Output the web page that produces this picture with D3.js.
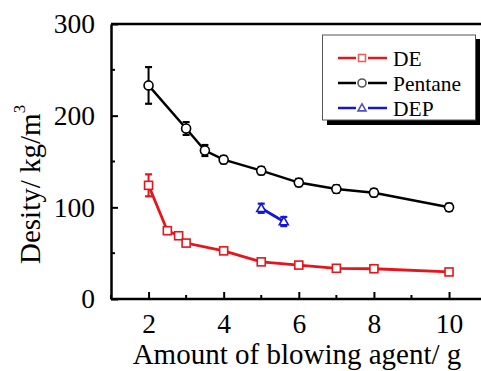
<!DOCTYPE html>
<html><head><meta charset="utf-8">
<script src="https://cdn.jsdelivr.net/npm/d3@7/dist/d3.min.js"></script>
</head><body>
<script>
const seriesNames = ["DE", "Pentane", "DEP"];
const seriesColors = ["#e8141b", "#000000", "#1515d8"];
const deX = [2, 2.5, 2.8, 3, 4, 5, 6, 7, 8, 10];
const deY = [124, 74.5, 69, 61, 52.5, 40.5, 37, 33.5, 33, 29.5];
const deErr = [12, 3, 3, 3, 2.5, 2.5, 3, 3, 3, 3];
const pentaneX = [2, 3, 3.5, 4, 5, 6, 7, 8, 10];
const pentaneY = [233, 186, 162, 152, 140, 127, 120, 116, 100];
const pentaneErr = [20, 7, 6, 4, 4, 4, 4, 4, 4];
const depX = [5, 5.6];
const depY = [99, 84.5];
const depErr = [5, 5];
const xTicks = [2, 4, 6, 8, 10];
const xMinor = [1, 3, 5, 7, 9, 11];
const yTicks = [0, 100, 200, 300];
const yMinor = [50, 150, 250];

d3.select("body").style("margin", "0px").style("background", "#fff");
const W = 481, H = 371;
const svg = d3.select("body").append("svg").attr("width", W).attr("height", H).style("display", "block");
const x = d3.scaleLinear().domain([1, 11]).range([111, 486.6]);
const y = d3.scaleLinear().domain([0, 300]).range([299, 24]);
const FONT = "\"Liberation Serif\"";

// frame
svg.append("line").attr("x1", x(1)).attr("x2", W).attr("y1", y(300)).attr("y2", y(300))
  .attr("stroke", "#000").attr("stroke-width", 2.5);

// axes
const xAxis = d3.axisBottom(x).tickValues(xTicks).tickSizeInner(-7).tickSizeOuter(0).tickPadding(14).tickFormat(d3.format("d"));
const gx = svg.append("g").attr("transform", `translate(0,${y(0)})`).call(xAxis);
gx.attr("font-family", null);
gx.select(".domain").attr("stroke-width", 2.5).attr("d", `M${x(1)},0H${W}`);
gx.selectAll(".tick line").attr("stroke-width", 2);
gx.selectAll("text").style("font-family", FONT).style("font-size", "27.5px").attr("fill", "#000");
gx.selectAll(".minor").data(xMinor).enter().append("line").attr("class", "minor")
  .attr("x1", d => x(d)).attr("x2", d => x(d)).attr("y1", 0).attr("y2", -4)
  .attr("stroke", "#000").attr("stroke-width", 2);

const yAxis = d3.axisLeft(y).tickValues(yTicks).tickSizeInner(-7).tickSizeOuter(0).tickPadding(16).tickFormat(d3.format("d"));
const gy = svg.append("g").attr("transform", `translate(${x(1)},0)`).call(yAxis);
gy.attr("font-family", null);
gy.select(".domain").attr("stroke-width", 2.5);
gy.selectAll(".tick line").attr("stroke-width", 2);
gy.selectAll("text").style("font-family", FONT).style("font-size", "27.5px").attr("fill", "#000");
gy.selectAll(".minor").data(yMinor).enter().append("line").attr("class", "minor")
  .attr("y1", d => y(d)).attr("y2", d => y(d)).attr("x1", 0).attr("x2", 4)
  .attr("stroke", "#000").attr("stroke-width", 2);

// axis titles
svg.append("text").attr("x", 297).attr("y", 364).attr("text-anchor", "middle")
  .style("font-family", FONT).style("font-size", "29px").text("Amount of blowing agent/ g");
const yl = svg.append("text").attr("transform", "translate(40,264) rotate(-90)")
  .style("font-family", FONT).style("font-size", "29px");
yl.append("tspan").text("Desity/ kg/m");
yl.append("tspan").style("font-size", "17px").attr("dy", -15).text("3");

// series
const series = [
  {name: seriesNames[0], color: seriesColors[0], xs: deX, ys: deY, es: deErr, shape: "square", lw: 2.8},
  {name: seriesNames[1], color: seriesColors[1], xs: pentaneX, ys: pentaneY, es: pentaneErr, shape: "circle", lw: 2.5},
  {name: seriesNames[2], color: seriesColors[2], xs: depX, ys: depY, es: depErr, shape: "triangle", lw: 2.8}
];
function marker(g, shape, color, cx, cy, s) {
  if (shape === "square") {
    g.append("rect").attr("x", cx - s/2).attr("y", cy - s/2).attr("width", s).attr("height", s)
      .attr("fill", "#fff").attr("stroke", color).attr("stroke-width", 1.6);
  } else if (shape === "circle") {
    g.append("circle").attr("cx", cx).attr("cy", cy).attr("r", s/2 + 0.5)
      .attr("fill", "#fff").attr("stroke", color).attr("stroke-width", 1.6);
  } else {
    const h = s * 0.9;
    g.append("path").attr("d", `M${cx},${cy - h*0.65}L${cx + s/2+0.5},${cy + h*0.45}L${cx - s/2-0.5},${cy + h*0.45}Z`)
      .attr("fill", "#fff").attr("stroke", color).attr("stroke-width", 1.6);
  }
}
series.forEach(s => {
  const g = svg.append("g");
  const pts = s.xs.map((d, i) => [d, s.ys[i], s.es[i]]);
  g.append("path").datum(pts)
    .attr("d", d3.line().x(d => x(d[0])).y(d => y(d[1])))
    .attr("fill", "none").attr("stroke", s.color).attr("stroke-width", s.lw);
  pts.forEach(p => {
    const cx = x(p[0]);
    g.append("line").attr("x1", cx).attr("x2", cx).attr("y1", y(p[1] + p[2])).attr("y2", y(p[1] - p[2]))
      .attr("stroke", s.color).attr("stroke-width", 2);
    [p[1] + p[2], p[1] - p[2]].forEach(v => {
      g.append("line").attr("x1", cx - 3.5).attr("x2", cx + 3.5).attr("y1", y(v)).attr("y2", y(v))
        .attr("stroke", s.color).attr("stroke-width", 2.2);
    });
    marker(g, s.shape, s.color, cx, y(p[1]), 8);
  });
});

// legend
const lg = svg.append("g");
lg.append("rect").attr("x", 327).attr("y", 39).attr("width", 153).attr("height", 86).attr("fill", "#000");
lg.append("rect").attr("x", 322.5).attr("y", 35).attr("width", 153).attr("height", 85)
  .attr("fill", "#fff").attr("stroke", "#555").attr("stroke-width", 1);
series.forEach((s, i) => {
  const cy = 58 + i * 25;
  lg.append("line").attr("x1", 338).attr("x2", 356).attr("y1", cy).attr("y2", cy).attr("stroke", s.color).attr("stroke-width", 2.5);
  lg.append("line").attr("x1", 368).attr("x2", 387).attr("y1", cy).attr("y2", cy).attr("stroke", s.color).attr("stroke-width", 2.5);
  const mc = s.color === "#000000" ? "#555" : (i === 0 ? "#e86060" : "#5050c0");
  marker(lg, s.shape, mc, 362, cy, 7);
  lg.append("text").attr("x", 393).attr("y", cy + 7.5).style("font-family", FONT).style("font-size", "21.5px").text(s.name);
});
</script>
</body></html>
